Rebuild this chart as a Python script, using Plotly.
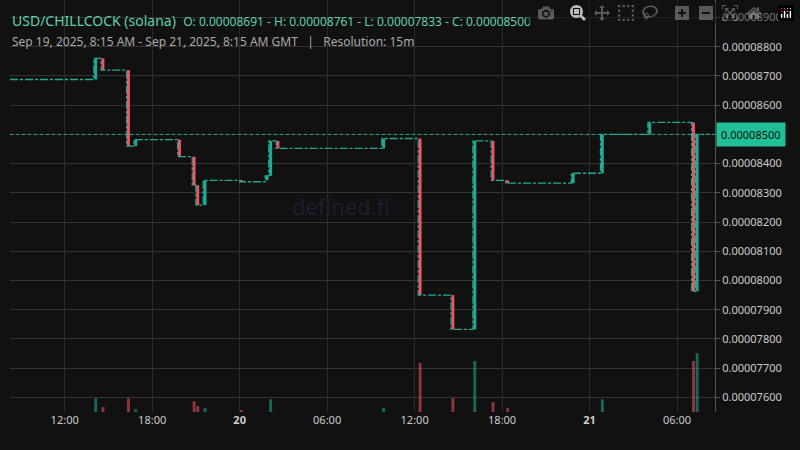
import plotly.graph_objects as go
import pandas as pd

start = pd.Timestamp("2025-09-19 08:15")
step = pd.Timedelta(minutes=15)

# Non-flat candles: index of 15m candle from start, OHLC
cand_idx = [23, 25, 32, 34, 46, 50, 51, 53, 63, 70, 71, 73, 102, 112, 121, 127, 132, 136, 154, 162, 175, 187, 188]
cand_open = [0.00008688, 0.00008760, 0.00008720, 0.00008460, 0.00008482, 0.00008424, 0.00008326, 0.00008258, 0.00008343, 0.00008343, 0.00008358, 0.00008478, 0.00008452, 0.00008486, 0.00007950, 0.00007833, 0.00008478, 0.00008343, 0.00008333, 0.00008367, 0.00008500, 0.00008541, 0.00007963]
cand_close = [0.00008760, 0.00008720, 0.00008460, 0.00008482, 0.00008424, 0.00008326, 0.00008258, 0.00008343, 0.00008338, 0.00008358, 0.00008478, 0.00008452, 0.00008486, 0.00007950, 0.00007833, 0.00008478, 0.00008343, 0.00008333, 0.00008367, 0.00008500, 0.00008541, 0.00007963, 0.00008500]

# Flat levels between moves (start index, price)
flat_idx = [0, 23, 25, 32, 34, 46, 50, 51, 53, 63, 70, 71, 73, 102, 112, 121, 127, 132, 136, 154, 162, 175, 187, 188, 192]
flat_price = [0.00008688, 0.00008760, 0.00008720, 0.00008460, 0.00008482, 0.00008424, 0.00008326, 0.00008258, 0.00008343, 0.00008338, 0.00008358, 0.00008478, 0.00008452, 0.00008486, 0.00007950, 0.00007833, 0.00008478, 0.00008343, 0.00008333, 0.00008367, 0.00008500, 0.00008541, 0.00007963, 0.00008500, 0.00008500]

vol_idx = [23, 25, 32, 34, 50, 51, 53, 63, 71, 102, 112, 121, 127, 132, 136, 162, 187, 188]
vol_val = [14, 5, 14, 3, 11, 6, 4, 2, 13, 4, 50, 14, 52, 10, 4, 13, 52, 60]

last_price = 0.000085
ytick_vals = [0.000076 + i * 0.000001 for i in range(14)]
xtick_vals = ["2025-09-19 12:00", "2025-09-19 18:00", "2025-09-20 00:00", "2025-09-20 06:00",
              "2025-09-20 12:00", "2025-09-20 18:00", "2025-09-21 00:00", "2025-09-21 06:00"]
xtick_text = ["12:00", "18:00", "<b>20</b>", "06:00", "12:00", "18:00", "<b>21</b>", "06:00"]

GREEN = "#22ab94"
RED = "#f7525f"
BAR_W = 1000 * 60 * 12

t = lambda i: start + step * i + step / 2
cx = [t(i) for i in cand_idx]
cbase = [min(o, c) for o, c in zip(cand_open, cand_close)]
chgt = [max(abs(c - o), 4e-8) for o, c in zip(cand_open, cand_close)]
ccol = [GREEN if c >= o else RED for o, c in zip(cand_open, cand_close)]
fx = [start + step * i for i in flat_idx]
vx = [t(i) for i in vol_idx]
vcol = [ccol[cand_idx.index(i)] for i in vol_idx]

fig = go.Figure()
fig.add_trace(go.Bar(x=vx, y=vol_val, marker=dict(color=vcol, line_width=0), opacity=0.55, width=BAR_W,
                     yaxis="y2", showlegend=False))
fig.add_trace(go.Scatter(x=fx, y=flat_price, mode="lines",
                         line=dict(color=GREEN, width=1.3, dash="8px,2px,3px,2px", shape="hv"),
                         showlegend=False))
fig.add_trace(go.Bar(x=cx, y=chgt, base=cbase, marker=dict(color=ccol, line_width=0), width=BAR_W,
                     showlegend=False))
fig.add_shape(type="line", xref="paper", x0=0, x1=1, y0=last_price, y1=last_price,
              line=dict(color=GREEN, width=1, dash="dot"))

fig.update_layout(
    width=800, height=450, paper_bgcolor="#111111", plot_bgcolor="#111111",
    margin=dict(l=10, r=85, t=0, b=38, autoexpand=False),
    font=dict(family="Noto Sans", color="#cccccc", size=11),
    barmode="overlay",
    xaxis=dict(range=["2025-09-19 08:15", "2025-09-21 08:36"], tickvals=xtick_vals, ticktext=xtick_text,
               showgrid=True, gridcolor="#2a2a2a", zeroline=False, showline=False, ticks="",
               tickfont=dict(size=11, color="#cccccc")),
    yaxis=dict(side="right", range=[0.0000755, 0.0000896], tickvals=ytick_vals, tickformat=".8f",
               showgrid=True, gridcolor="#333333", zeroline=False, showline=True, linecolor="#555555",
               ticks="outside", ticklen=4, tickcolor="#555555", tickfont=dict(size=11, color="#cccccc")),
    yaxis2=dict(overlaying="y", range=[0, 420], visible=False),
    annotations=[
        dict(text="defined.fi", xref="paper", yref="paper", x=0.47, y=0.5, showarrow=False,
             font=dict(size=22, color="#1f1c33")),
        dict(text="USD/CHILLCOCK (solana)  <span style='font-size:12px'>O: 0.00008691 - H: 0.00008761 - L: 0.00007833 - C: 0.00008500</span>",
             xref="paper", yref="paper", x=0.0, y=1.0, yshift=-9, xanchor="left", yanchor="top",
             showarrow=False, font=dict(size=14, color="#5fd0b0")),
        dict(text="Sep 19, 2025, 8:15 AM - Sep 21, 2025, 8:15 AM GMT   |   Resolution: 15m",
             xref="paper", yref="paper", x=0.0, y=1.0, yshift=-31, xanchor="left", yanchor="top",
             showarrow=False, font=dict(size=12, color="#aaaaaa")),
        dict(text="0.00008500", xref="paper", yref="y", x=1.0, y=last_price, xanchor="left", xshift=1,
             showarrow=False, bgcolor="#1fc095", font=dict(size=11, color="#111111"), borderpad=4),
    ],
)
fig.write_html("out.html", post_script="document.body.style.margin='0';document.body.style.background='#111111';")
